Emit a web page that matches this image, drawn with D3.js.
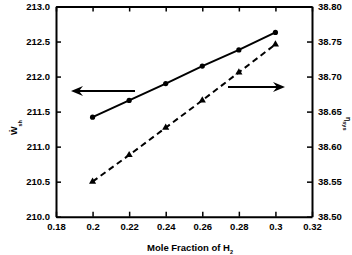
<!DOCTYPE html>
<html>
<head>
<meta charset="utf-8">
<script src="https://cdn.jsdelivr.net/npm/d3@7"></script>
<style>
  body { margin: 0; background: #fff; }
  svg { display: block; font-family: "Liberation Sans", Arial, sans-serif; font-weight: bold; }
</style>
</head>
<body>
<div id="chart"></div>
<script>
// data
const moleFraction = [0.2, 0.22, 0.24, 0.26, 0.28, 0.3];
const shaftWork = [211.42, 211.66, 211.90, 212.15, 212.38, 212.63];
const sysEfficiency = [38.55, 38.588, 38.627, 38.666, 38.706, 38.746];
const xTicks = [0.18, 0.2, 0.22, 0.24, 0.26, 0.28, 0.3, 0.32];
const leftTicks = [210.0, 210.5, 211.0, 211.5, 212.0, 212.5, 213.0];
const rightTicks = [38.50, 38.55, 38.60, 38.65, 38.70, 38.75, 38.80];

const width = 352, height = 255;
const plot = { left: 56, right: 312, top: 6.5, bottom: 216.7 };

const svg = d3.select("#chart").append("svg")
    .attr("width", width)
    .attr("height", height);

const x = d3.scaleLinear().domain([0.18, 0.32]).range([plot.left, plot.right]);
const yL = d3.scaleLinear().domain([210, 213]).range([plot.bottom, plot.top]);
const yR = d3.scaleLinear().domain([38.5, 38.8]).range([plot.bottom, plot.top]);

const fmtX = d => String(+d.toFixed(2));

function styleAxis(g) {
    g.select(".domain").attr("stroke", "#000").attr("stroke-width", 2);
    g.selectAll(".tick line").attr("stroke", "#000").attr("stroke-width", 1.5);
    g.selectAll(".tick text").attr("fill", "#000").style("font-size", "9.5px").style("font-weight", "bold");
}

// bottom axis
svg.append("g")
    .attr("transform", `translate(0,${plot.bottom})`)
    .call(d3.axisBottom(x).tickValues(xTicks).tickFormat(fmtX).tickSizeInner(-5).tickSizeOuter(0).tickPadding(6.5))
    .call(styleAxis);

// top axis (ticks only)
svg.append("g")
    .attr("transform", `translate(0,${plot.top})`)
    .call(d3.axisTop(x).tickValues(xTicks).tickFormat("").tickSizeInner(-5).tickSizeOuter(0))
    .call(styleAxis);

// left axis
svg.append("g")
    .attr("transform", `translate(${plot.left},0)`)
    .call(d3.axisLeft(yL).tickValues(leftTicks).tickFormat(d3.format(".1f")).tickSizeInner(-5).tickSizeOuter(0).tickPadding(6))
    .call(styleAxis);

// right axis
svg.append("g")
    .attr("transform", `translate(${plot.right},0)`)
    .call(d3.axisRight(yR).tickValues(rightTicks).tickFormat(d3.format(".2f")).tickSizeInner(-5).tickSizeOuter(0).tickPadding(6))
    .call(styleAxis);

// shaft work series (solid, circles)
const workData = moleFraction.map((m, i) => [m, shaftWork[i]]);
svg.append("path")
    .datum(workData)
    .attr("fill", "none")
    .attr("stroke", "#000")
    .attr("stroke-width", 2)
    .attr("d", d3.line().x(d => x(d[0])).y(d => yL(d[1])));
svg.selectAll(".dot")
    .data(workData)
    .enter().append("circle")
    .attr("cx", d => x(d[0]))
    .attr("cy", d => yL(d[1]))
    .attr("r", 2.6)
    .attr("fill", "#000");

// efficiency series (dashed, triangles)
const effData = moleFraction.map((m, i) => [m, sysEfficiency[i]]);
svg.append("path")
    .datum(effData)
    .attr("fill", "none")
    .attr("stroke", "#000")
    .attr("stroke-width", 2)
    .attr("stroke-dasharray", "6,4")
    .attr("d", d3.line().x(d => x(d[0])).y(d => yR(d[1])));
svg.selectAll(".tri")
    .data(effData)
    .enter().append("path")
    .attr("transform", d => `translate(${x(d[0])},${yR(d[1])})`)
    .attr("d", d3.symbol().type(d3.symbolTriangle).size(22))
    .attr("fill", "#000");

// arrows pointing at the axes
function arrow(x1, x2, yv) {
    const dir = Math.sign(x2 - x1);
    svg.append("line")
        .attr("x1", x1).attr("y1", yv)
        .attr("x2", x2 - dir * 6).attr("y2", yv)
        .attr("stroke", "#000").attr("stroke-width", 2);
    svg.append("path")
        .attr("d", `M${x2},${yv} L${x2 - dir * 12},${yv - 5} L${x2 - dir * 8},${yv} L${x2 - dir * 12},${yv + 5} Z`)
        .attr("fill", "#000");
}
arrow(135, 71, 91);
arrow(228, 285, 87);

// axis titles
const xt = svg.append("text")
    .attr("x", 190).attr("y", 251)
    .attr("text-anchor", "middle")
    .style("font-size", "9.5px");
xt.append("tspan").text("Mole Fraction of H");
xt.append("tspan").attr("dy", 3).style("font-size", "5.5px").text("2");

const yt = svg.append("text")
    .attr("transform", "translate(17,135) rotate(-90)")
    .style("font-size", "9px");
yt.append("tspan").text("\u1E86");
yt.append("tspan").attr("dy", 5).style("font-size", "5.5px").text("sh");

const rt = svg.append("text")
    .attr("transform", "translate(346,117) rotate(90)")
    .style("font-size", "7px");
rt.append("tspan").text("\u03B7");
rt.append("tspan").attr("dy", 3).style("font-size", "5.5px").text("sys");
</script>
</body>
</html>
